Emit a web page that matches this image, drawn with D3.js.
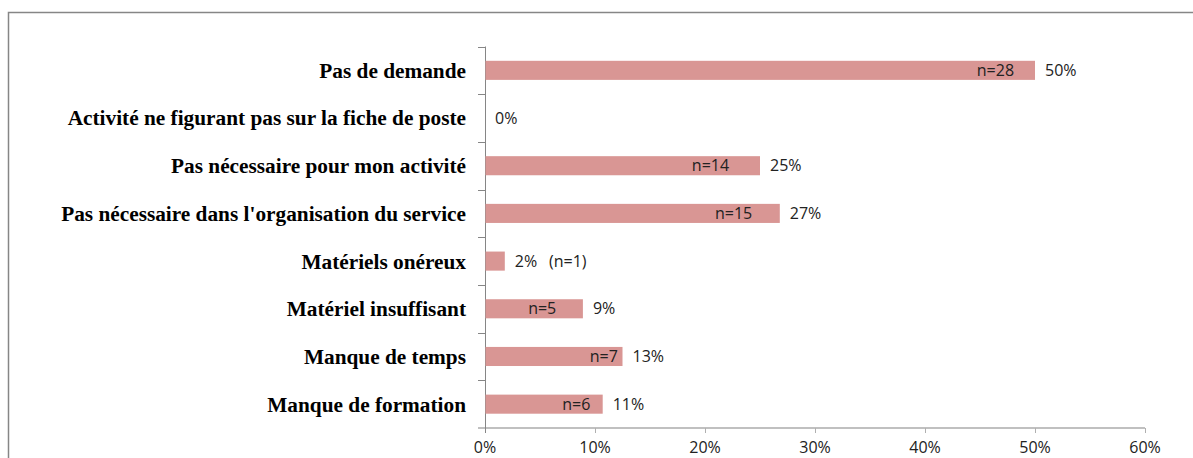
<!DOCTYPE html>
<html><head><meta charset="utf-8">
<script src="https://cdn.jsdelivr.net/npm/d3@7"></script>
<style>body{margin:0;background:#fff}</style>
</head><body>
<script>
const categories = ["Pas de demande","Activité ne figurant pas sur la fiche de poste","Pas nécessaire pour mon activité","Pas nécessaire dans l'organisation du service","Matériels onéreux","Matériel insuffisant","Manque de temps","Manque de formation"];
const counts = [28,0,14,15,1,5,7,6];
const total = 56;
const percents = [50,0,25,26.8,1.8,8.9,12.5,10.7];
const valueLabels = ["50%","0%","25%","27%","2%","9%","13%","11%"];
const countLabels = ["n=28","","n=14","n=15","(n=1)","n=5","n=7","n=6"];
const xTicks = [0,10,20,30,40,50,60];
// label placement (percent units) for the n= annotations
const countLabelAt = [46.4,null,20.5,22.6,null,5.2,10.8,8.3];

const W=1193,H=458;
const svg=d3.select("body").append("svg").attr("width",W).attr("height",H);
svg.append("rect").attr("x",8.5).attr("y",12.5).attr("width",W+20).attr("height",H+20)
  .attr("fill","none").attr("stroke","#868686").attr("stroke-width",1.5);

const x=d3.scaleLinear().domain([0,60]).range([485,1145]);
const y=d3.scaleBand().domain(categories).range([46.5,428]).paddingInner(0.6).paddingOuter(0.3);
const yb=d3.scaleBand().domain(categories).range([46.5,428]);
const labFont="'Open Sans',sans-serif", labSize=16;

// x axis
const gx=svg.append("g").attr("transform","translate(0,428)");
gx.append("line").attr("x1",478).attr("x2",1145).attr("stroke","#c0c0c0").attr("stroke-width",2);
gx.selectAll("line.t").data(xTicks).join("line").attr("class","t")
  .attr("x1",d=>x(d)+0.5).attr("x2",d=>x(d)+0.5).attr("y1",0).attr("y2",5).attr("stroke","#b0b0b0");
gx.selectAll("text").data(xTicks).join("text").attr("x",d=>x(d)).attr("y",25)
  .attr("text-anchor","middle").attr("font-family",labFont).attr("font-size",labSize).attr("fill","#222")
  .text(d=>d+"%");

// y axis
svg.append("line").attr("x1",485.5).attr("x2",485.5).attr("y1",46.5).attr("y2",433).attr("stroke","#868686");
const bounds=categories.map(c=>yb(c));
svg.selectAll("line.yt").data(bounds).join("line").attr("class","yt")
  .attr("x1",478).attr("x2",485).attr("y1",d=>Math.round(d)+0.5).attr("y2",d=>Math.round(d)+0.5).attr("stroke","#868686");

svg.selectAll("text.cat").data(categories).join("text").attr("class","cat")
  .attr("x",466).attr("y",d=>yb(d)+yb.bandwidth()/2).attr("dy","0.35em")
  .attr("text-anchor","end").attr("font-family","'Liberation Serif','Times New Roman',serif")
  .attr("font-weight","bold").attr("font-size",21.3).attr("fill","#000").text(d=>d);

// bars
svg.selectAll("rect.bar").data(categories).join("rect").attr("class","bar")
  .attr("x",x(0)+0.5).attr("y",d=>y(d)).attr("height",y.bandwidth())
  .attr("width",(d,i)=>Math.max(0,x(percents[i])-x(0)-0.5)).attr("fill","#d99694");

svg.selectAll("text.val").data(categories).join("text").attr("class","val")
  .attr("x",(d,i)=>x(percents[i])+10).attr("y",d=>yb(d)+yb.bandwidth()/2).attr("dy","0.35em")
  .attr("font-family",labFont).attr("font-size",labSize).attr("fill","#222")
  .text((d,i)=>valueLabels[i]);

svg.selectAll("text.cnt").data(categories).join("text").attr("class","cnt")
  .attr("x",(d,i)=>countLabelAt[i]!=null? x(countLabelAt[i]) : x(percents[i])+63)
  .attr("y",d=>yb(d)+yb.bandwidth()/2).attr("dy","0.35em").attr("text-anchor","middle")
  .attr("font-family",labFont).attr("font-size",labSize).attr("fill","#222")
  .text((d,i)=>countLabels[i]);
</script>
</body></html>
